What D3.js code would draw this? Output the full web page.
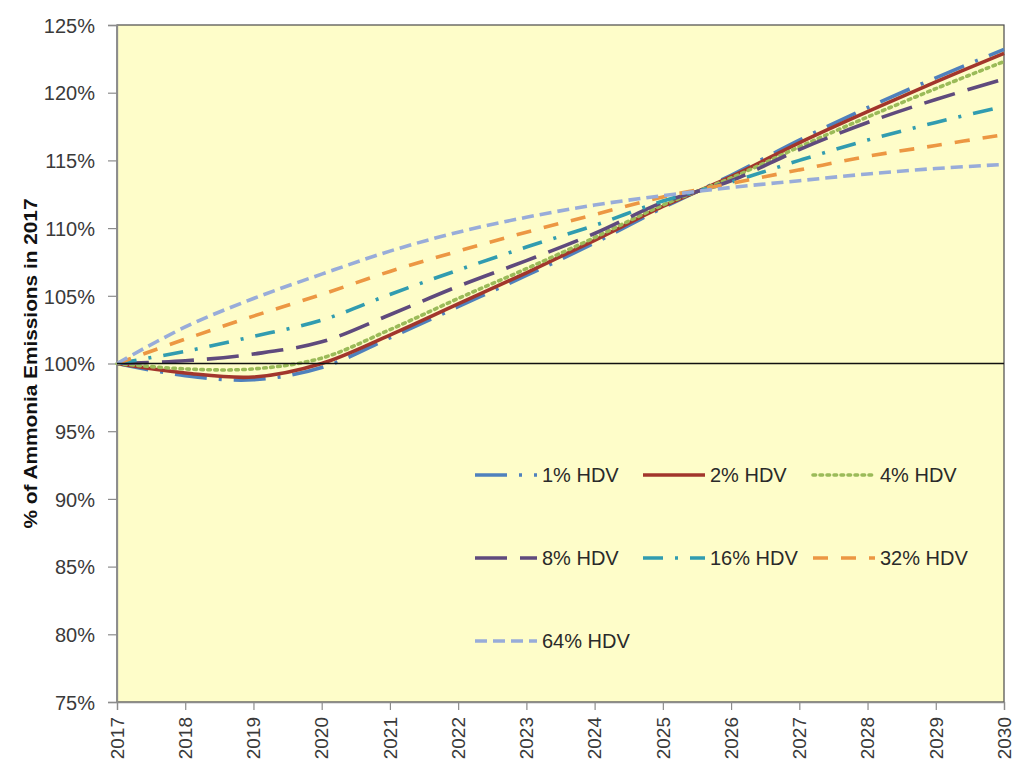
<!DOCTYPE html>
<html>
<head>
<meta charset="utf-8">
<script src="https://cdn.jsdelivr.net/npm/d3@7"></script>
<style>
html,body{margin:0;padding:0;background:#fff;}
svg{display:block;}
</style>
</head>
<body>
<svg id="chart" width="1013" height="765"></svg>
<script>
const years = [2017,2018,2019,2020,2021,2022,2023,2024,2025,2026,2027,2028,2029,2030];
const seriesNames = ["1% HDV","2% HDV","4% HDV","8% HDV","16% HDV","32% HDV","64% HDV"];
const hdv1  = [100, 99.1, 98.8, 99.7, 101.9, 104.2, 106.5, 108.9, 111.5, 113.9, 116.5, 118.9, 121.1, 123.2];
const hdv2  = [100, 99.3, 99.0, 100.0, 102.1, 104.4, 106.7, 109.1, 111.6, 113.8, 116.3, 118.6, 120.8, 122.9];
const hdv4  = [100, 99.6, 99.6, 100.4, 102.5, 104.8, 107.0, 109.3, 111.7, 113.7, 116.0, 118.2, 120.3, 122.3];
const hdv8  = [100, 100.2, 100.7, 101.6, 103.6, 105.7, 107.6, 109.6, 111.9, 113.5, 115.8, 117.8, 119.5, 121.0];
const hdv16 = [100, 100.9, 102.0, 103.2, 105.1, 106.9, 108.6, 110.2, 112.0, 113.4, 115.0, 116.5, 117.8, 119.0];
const hdv32 = [100, 101.8, 103.5, 105.1, 106.8, 108.3, 109.7, 111.0, 112.3, 113.3, 114.3, 115.3, 116.1, 116.9];
const hdv64 = [100, 102.7, 104.8, 106.6, 108.3, 109.7, 110.8, 111.7, 112.4, 113.0, 113.5, 114.0, 114.4, 114.7];
const yTicks = [75,80,85,90,95,100,105,110,115,120,125];
const yTitle = "% of Ammonia Emissions in 2017";

const seriesValues = [hdv1,hdv2,hdv4,hdv8,hdv16,hdv32,hdv64];
const colors = ["#4F81BD","#A2362C","#9BBB59","#5F4A7D","#319CB0","#EC9743","#98ACD9"];
const dashes = ["32,12,3,12", null, "2.6,4.4", "32,13", "20,12,3,12", "15,13", "12,6"];

const svg = d3.select("#chart");
const m = {left:117, right:1004, top:25, bottom:702};
const x = d3.scaleLinear().domain([2017,2030]).range([m.left,m.right]);
const y = d3.scaleLinear().domain([75,125]).range([m.bottom,m.top]);

// plot background
svg.append("rect").attr("x",m.left).attr("y",m.top)
  .attr("width",m.right-m.left).attr("height",m.bottom-m.top)
  .attr("fill","#FEFDC9").attr("stroke","#4a4a4a").attr("stroke-width",1.2);

// y axis
const yAxis = d3.axisLeft(y).tickValues(yTicks).tickSize(9).tickFormat(d=>d+"%");
const gy = svg.append("g").attr("transform",`translate(${m.left},0)`).call(yAxis);
gy.select(".domain").attr("stroke","#8c8c8c").attr("stroke-width",1.3);
gy.selectAll(".tick line").attr("stroke","#8c8c8c").attr("stroke-width",1.2);
gy.selectAll(".tick text").attr("x",-22).attr("dy","0.36em")
  .attr("font-family","Liberation Sans, Arial, sans-serif").attr("font-size",20)
  .attr("fill","#3a3a3a");

// x axis
const xAxis = d3.axisBottom(x).tickValues(years).tickSize(8).tickFormat(d3.format("d"));
const gx = svg.append("g").attr("transform",`translate(0,${m.bottom})`).call(xAxis);
gx.select(".domain").attr("stroke","#8c8c8c").attr("stroke-width",1.3);
gx.selectAll(".tick line").attr("stroke","#8c8c8c").attr("stroke-width",1.2);
gx.selectAll(".tick text")
  .attr("font-family","Liberation Sans, Arial, sans-serif").attr("font-size",19)
  .attr("fill","#3a3a3a")
  .attr("transform","rotate(-90)")
  .attr("text-anchor","end").attr("x",-15).attr("y",0).attr("dy","0.33em");

// y title
svg.append("text")
  .attr("transform",`translate(37,${(m.top+m.bottom)/2}) rotate(-90)`)
  .attr("text-anchor","middle")
  .attr("font-family","Liberation Sans, Arial, sans-serif")
  .attr("font-weight","bold").attr("font-size",19)
  .attr("textLength",330).attr("lengthAdjust","spacingAndGlyphs")
  .attr("fill","#111")
  .text(yTitle);

// series
const line = d3.line().x((d,i)=>x(years[i])).y(d=>y(d)).curve(d3.curveCatmullRom.alpha(0.5));
const gs = svg.append("g");
seriesValues.forEach((vals,i)=>{
  gs.append("path").attr("d",line(vals)).attr("fill","none")
    .attr("stroke",colors[i]).attr("stroke-width",3.6)
    .attr("stroke-dasharray",dashes[i])
    .attr("stroke-linecap", i===2 ? "round" : "butt");
});

// 100% reference line
svg.append("line").attr("x1",m.left).attr("x2",m.right)
  .attr("y1",y(100)).attr("y2",y(100)).attr("stroke","#111").attr("stroke-width",1.6);

// legend
const legCols = [475,643,813];
const legRows = [475,558,641];
const lg = svg.append("g");
seriesNames.forEach((name,i)=>{
  const cx = legCols[i%3], cy = legRows[Math.floor(i/3)];
  lg.append("line").attr("x1",cx).attr("x2",cx+62).attr("y1",cy).attr("y2",cy)
    .attr("stroke",colors[i]).attr("stroke-width",3.6)
    .attr("stroke-dasharray",dashes[i])
    .attr("stroke-linecap", i===2 ? "round" : "butt");
  lg.append("text").attr("x",cx+67).attr("y",cy).attr("dy","0.36em")
    .attr("font-family","Liberation Sans, Arial, sans-serif").attr("font-size",20)
    .attr("fill","#2a2a2a").text(name);
});
</script>
</body>
</html>
